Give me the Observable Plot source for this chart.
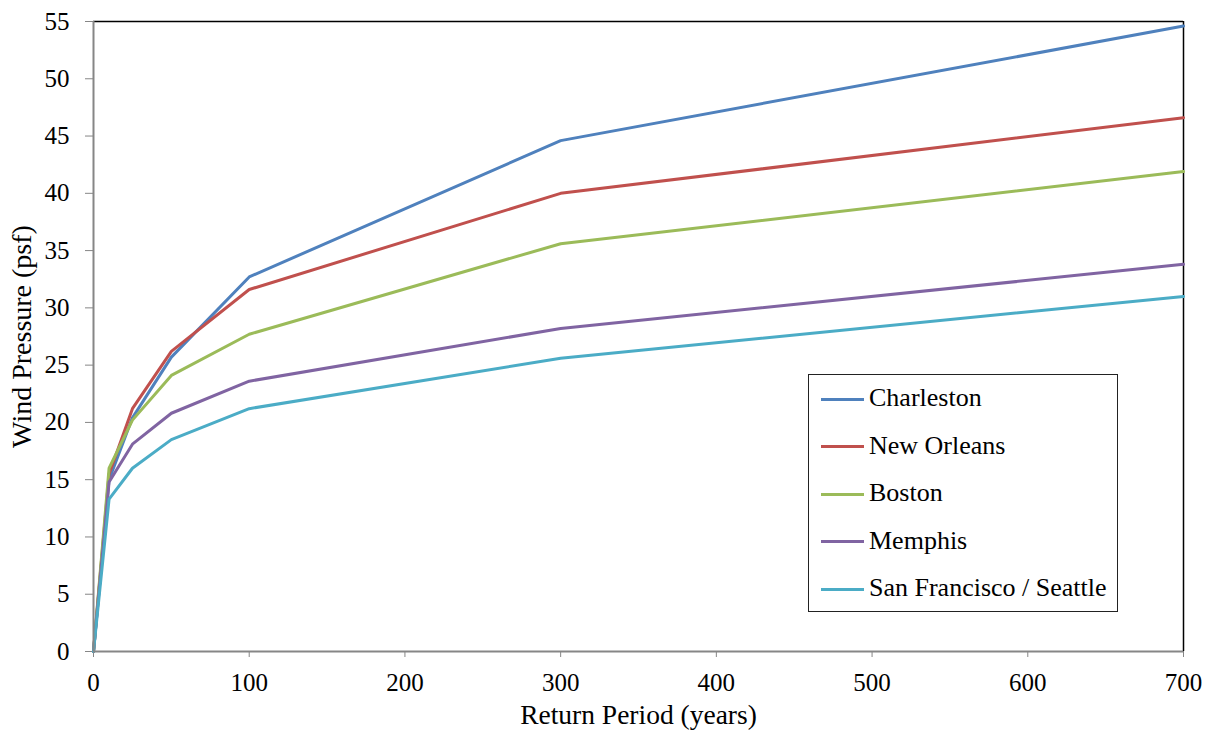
<!DOCTYPE html>
<html>
<head>
<meta charset="utf-8">
<script src="https://cdn.jsdelivr.net/npm/d3@7"></script>
<script src="https://cdn.jsdelivr.net/npm/@observablehq/plot@0.6"></script>
<style>
  body { margin: 0; background: #fff; }
  #wrap { position: relative; width: 1211px; height: 732px; font-family: "Liberation Serif", Tinos, "Times New Roman", serif; }
  #legend { position: absolute; left: 808px; top: 374px; width: 310px; height: 238px; border: 1px solid #222; background: #fff; box-sizing: border-box; }
  .row { position: absolute; left: 12px; height: 30px; display: flex; align-items: center; font-size: 26px; color: #000; white-space: nowrap; }
  .sw { width: 43px; height: 3px; margin-right: 5px; margin-top: 2px; }
</style>
</head>
<body>
<div id="wrap"></div>
<script>
const years = [0, 10, 25, 50, 100, 300, 700];
const seriesNames = ["Charleston", "New Orleans", "Boston", "Memphis", "San Francisco / Seattle"];
const charleston = [0, 15.0, 20.4, 25.7, 32.7, 44.6, 54.6];
const newOrleans = [0, 15.5, 21.2, 26.2, 31.6, 40.0, 46.6];
const boston     = [0, 16.0, 20.2, 24.1, 27.7, 35.6, 41.9];
const memphis    = [0, 14.8, 18.1, 20.8, 23.6, 28.2, 33.8];
const sfSeattle  = [0, 13.3, 16.0, 18.5, 21.2, 25.6, 31.0];
const colors = ["#4F81BD", "#C0504D", "#9BBB59", "#8064A2", "#4BACC6"];
const xTicks = [0, 100, 200, 300, 400, 500, 600, 700];
const yTicks = [0, 5, 10, 15, 20, 25, 30, 35, 40, 45, 50, 55];

const FONT = "'Liberation Serif', Tinos, 'Times New Roman', serif";

const allSeries = [charleston, newOrleans, boston, memphis, sfSeattle];
const data = [];
allSeries.forEach((vals, i) => {
  vals.forEach((v, j) => data.push({series: seriesNames[i], year: years[j], value: v}));
});

const chart = Plot.plot({
  width: 1211,
  height: 732,
  marginLeft: 93,
  marginRight: 28,
  marginTop: 21,
  marginBottom: 81,
  style: { fontFamily: FONT, fontSize: "25px", color: "#000", background: "#fff" },
  x: { domain: [0, 700] },
  y: { domain: [0, 55] },
  color: { domain: seriesNames, range: colors },
  marks: [
    Plot.ruleY([55], { stroke: "#000", strokeWidth: 1.5 }),
    Plot.ruleX([700], { stroke: "#000", strokeWidth: 1.5 }),
    Plot.axisX({ ticks: xTicks, tickSize: 6, tickPadding: 16, stroke: "#868686", fill: "#000", label: null, fontSize: 25, fontFamily: FONT }),
    Plot.axisY({ ticks: yTicks, tickSize: 8, tickPadding: 16, stroke: "#868686", fill: "#000", label: null, fontSize: 25, fontFamily: FONT }),
    Plot.line(data, { x: "year", y: "value", z: "series", stroke: "series", strokeWidth: 3, strokeLinejoin: "round" }),
    Plot.ruleY([0], { stroke: "#868686", strokeWidth: 2 }),
    Plot.ruleX([0], { stroke: "#868686", strokeWidth: 2 }),
    Plot.text(["Return Period (years)"], { frameAnchor: "bottom", textAnchor: "middle", lineAnchor: "top", dy: 53, fontSize: 27.5, fill: "#000", fontFamily: FONT }),
    Plot.text(["Wind Pressure (psf)"], { frameAnchor: "left", textAnchor: "middle", lineAnchor: "middle", rotate: -90, dx: -71, fontSize: 28, fill: "#000", fontFamily: FONT })
  ]
});

const wrap = document.getElementById("wrap");
wrap.appendChild(chart);

const legend = document.createElement("div");
legend.id = "legend";
seriesNames.forEach((name, i) => {
  const row = document.createElement("div");
  row.className = "row";
  row.style.top = (8 + i * 47.5) + "px";
  const sw = document.createElement("span");
  sw.className = "sw";
  sw.style.background = colors[i];
  const t = document.createElement("span");
  t.textContent = name;
  row.appendChild(sw);
  row.appendChild(t);
  legend.appendChild(row);
});
wrap.appendChild(legend);
</script>
</body>
</html>
